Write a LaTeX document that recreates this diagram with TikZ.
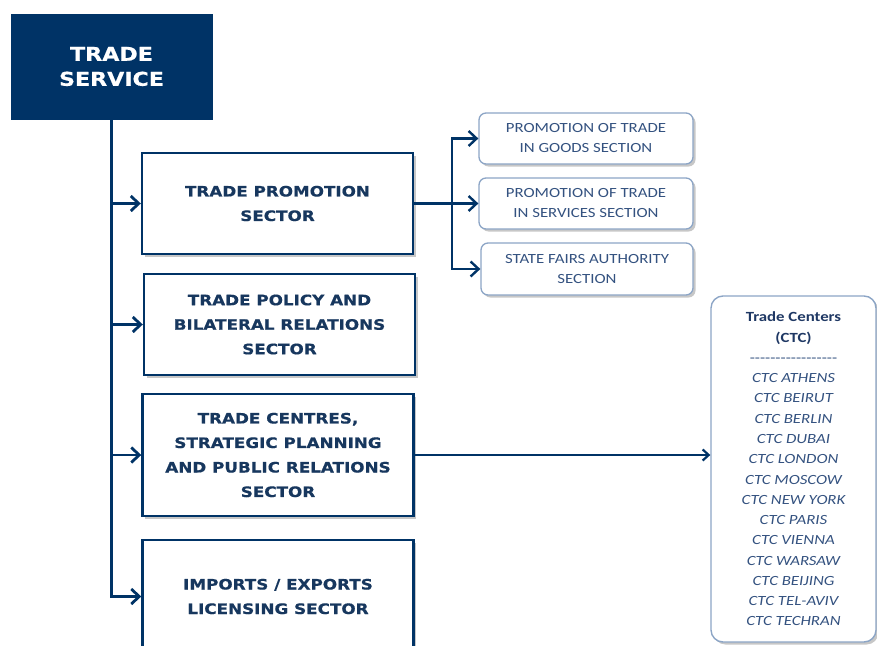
\documentclass[tikz,border=0pt]{standalone}
\usepackage{fontspec}
\newfontfamily\sectorfont{DejaVu Sans}[FakeStretch=1.165, BoldFeatures={FakeBold=0.6}]
\newfontfamily\seccionfont{Carlito}[FakeStretch=1.2]
\usepackage{xcolor}
\definecolor{marino}{RGB}{0, 51, 102}
\definecolor{tinta}{RGB}{23, 55, 94}
\definecolor{bordeclaro}{RGB}{140, 165, 198}
\definecolor{tintaclara}{RGB}{52, 82, 128}
\definecolor{tintactc}{RGB}{31, 56, 100}
\usepackage{tikz}
\usetikzlibrary{positioning, arrows.meta, shadows}
\newcommand\guiones{\foreach\k in {1,...,17}{-\kern0pt}}

\begin{document}
\begin{tikzpicture}[x=1pt, y=-1pt,
    sombra/.style={drop shadow={shadow xshift=2.5pt, shadow yshift=-2.5pt, opacity=0.22, fill=black}},
    servicebox/.style={fill=marino, draw=marino, minimum width=201pt, minimum height=105pt,
      inner sep=0pt, align=center, text=white,
      font=\sectorfont\bfseries\fontsize{19}{25}\selectfont},
    sectorbox/.style={draw=marino, line width=2.4pt, fill=white, minimum width=271pt,
      inner sep=0pt, align=center, text=tinta, sombra,
      font=\sectorfont\bfseries\fontsize{14.4}{24.5}\selectfont},
    seccionbox/.style={draw=bordeclaro, line width=1.3pt, fill=white, rounded corners=7pt,
      minimum width=214pt, minimum height=51pt, inner sep=0pt, align=center,
      text=tintaclara, sombra, font=\seccionfont\fontsize{14}{20}\selectfont},
    ctcbox/.style={draw=bordeclaro, line width=1.4pt, fill=white, rounded corners=12pt,
      minimum width=165pt, minimum height=346pt, inner sep=0pt, align=center,
      text=tintaclara, sombra, font=\seccionfont\fontsize{14}{20.27}\selectfont},
    linea/.style={draw=marino, line width=2.8pt},
    flecha/.style={linea, -{Straight Barb[length=8pt, width=15pt]}},
    flechita/.style={draw=marino, line width=2.2pt, -{Straight Barb[length=6pt, width=11pt]}}
  ]
  \useasboundingbox (0,0) rectangle (877,645);
  \clip (0,0) rectangle (877,645);

  % Caja principal
  \node[servicebox] (service) at (111.5,66.5) {TRADE\\SERVICE};

  % Sectores
  \node[sectorbox, minimum height=101pt] (promotion) at (277.5,203.5) {TRADE PROMOTION\\SECTOR};
  \node[sectorbox, minimum height=101pt] (policy) at (279.5,324.5) {TRADE POLICY AND\\BILATERAL RELATIONS\\SECTOR};
  \node[sectorbox, minimum height=122pt] (centres) at (278,455) {TRADE CENTRES,\\STRATEGIC PLANNING\\AND PUBLIC RELATIONS\\SECTOR};
  \node[sectorbox, minimum height=113pt] (imports) at (278,596.5) {IMPORTS / EXPORTS\\LICENSING SECTOR};

  % Secciones
  \node[seccionbox] (goods) at (586,138.5) {PROMOTION OF TRADE\\IN GOODS SECTION};
  \node[seccionbox] (services) at (586,203.5) {PROMOTION OF TRADE\\IN SERVICES SECTION};
  \node[seccionbox, minimum width=212pt, minimum height=52pt] (fairs) at (587,269) {STATE FAIRS AUTHORITY\\SECTION};

  % Centros
  \node[ctcbox] (ctc) at (793.5,469) {%
    {\bfseries\color{tintactc}Trade Centers}\\
    {\bfseries\color{tintactc}(CTC)}\\
    {\guiones}\\
    {\itshape CTC ATHENS}\\
    {\itshape CTC BEIRUT}\\
    {\itshape CTC BERLIN}\\
    {\itshape CTC DUBAI}\\
    {\itshape CTC LONDON}\\
    {\itshape CTC MOSCOW}\\
    {\itshape CTC NEW YORK}\\
    {\itshape CTC PARIS}\\
    {\itshape CTC VIENNA}\\
    {\itshape CTC WARSAW}\\
    {\itshape CTC BEIJING}\\
    {\itshape CTC TEL-AVIV}\\
    {\itshape CTC TECHRAN}};

  % Tronco
  \draw[flecha] (service.south) |- (imports.west);
  \foreach \s in {promotion, policy, centres}
    \draw[flecha] (service.south |- \s.west) -- (\s.west);

  % Rama de promocion
  \draw[linea, line width=2.4pt] (promotion.east) -- ++(37.5,0) coordinate (rama);
  \draw[flecha, line width=2.4pt] (rama) |- (goods.west);
  \draw[flecha, line width=2.4pt] (rama) -- (services.west);
  \draw[flecha, line width=2.4pt] (rama) |- (fairs.west);

  % Hacia los centros
  \draw[flechita] (centres.east) -- (centres.east -| ctc.west);
\end{tikzpicture}
\end{document}
